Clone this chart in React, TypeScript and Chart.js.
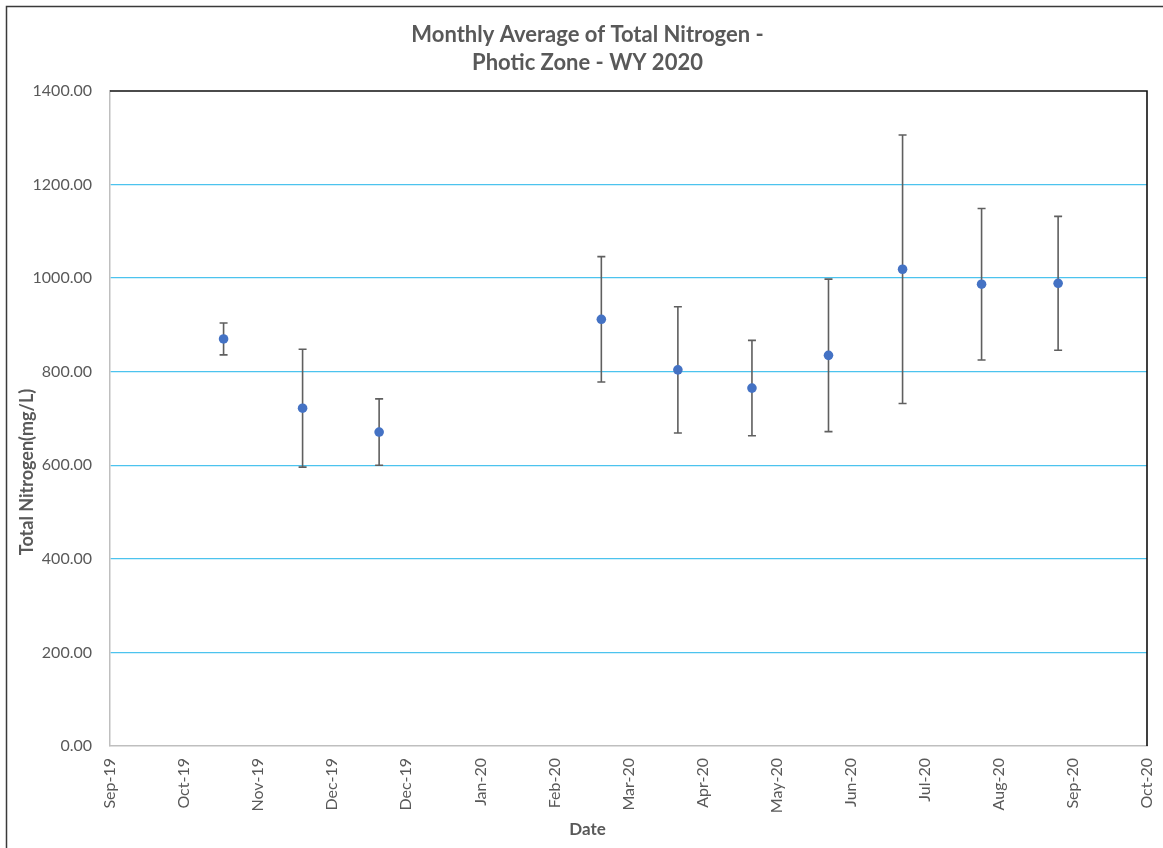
import React, { useEffect, useRef } from "react";
import { Chart, registerables } from "chart.js";

Chart.register(...registerables);

// ---- data ----
const START_DATE = "2019-09-02";
const TICK_STEP_DAYS = 30;
const TICK_LABELS = [
  "Sep-19", "Oct-19", "Nov-19", "Dec-19", "Dec-19", "Jan-20", "Feb-20",
  "Mar-20", "Apr-20", "May-20", "Jun-20", "Jul-20", "Aug-20", "Sep-20", "Oct-20",
];
const SAMPLE_DATES = [
  "2019-10-18", "2019-11-19", "2019-12-20", "2020-03-19", "2020-04-19",
  "2020-05-19", "2020-06-19", "2020-07-19", "2020-08-20", "2020-09-20",
];
const MEAN_TN = [870, 722, 671, 912, 804, 765, 835, 1019, 987, 989];
const STDEV_TN = [34, 126, 71, 134, 135, 102, 163, 287, 162, 143];
const Y_MIN = 0;
const Y_MAX = 1400;
const Y_STEP = 200;
const TITLE_LINES = ["Monthly Average of Total Nitrogen -", "Photic Zone - WY 2020"];
const X_TITLE = "Date";
const Y_TITLE = "Total Nitrogen(mg/L)";

const FONT = "Lato, 'Open Sans', sans-serif";
const TEXT_COLOR = "#595959";

const dayOffset = (d: string) =>
  (Date.parse(d) - Date.parse(START_DATE)) / 86400000;

const decorPlugin = {
  id: "decor",
  beforeDraw(chart: any) {
    const ctx = chart.ctx;
    ctx.save();
    ctx.fillStyle = "#ffffff";
    ctx.fillRect(0, 0, chart.width, chart.height);
    ctx.strokeStyle = "#3a3a3a";
    ctx.lineWidth = 1.5;
    ctx.beginPath();
    ctx.moveTo(6.5, chart.height + 5);
    ctx.lineTo(6.5, 6.5);
    ctx.lineTo(chart.width + 5, 6.5);
    ctx.stroke();
    ctx.restore();
  },
  beforeDatasetsDraw(chart: any) {
    const ctx = chart.ctx;
    const xs = chart.scales.x;
    const ys = chart.scales.y;
    ctx.save();
    ctx.strokeStyle = "#5f5f5f";
    ctx.lineWidth = 1.6;
    SAMPLE_DATES.forEach((d, i) => {
      const x = xs.getPixelForValue(dayOffset(d));
      const yTop = ys.getPixelForValue(MEAN_TN[i] + STDEV_TN[i]);
      const yBot = ys.getPixelForValue(MEAN_TN[i] - STDEV_TN[i]);
      ctx.beginPath();
      ctx.moveTo(x, yTop);
      ctx.lineTo(x, yBot);
      ctx.moveTo(x - 4, yTop);
      ctx.lineTo(x + 4, yTop);
      ctx.moveTo(x - 4, yBot);
      ctx.lineTo(x + 4, yBot);
      ctx.stroke();
    });
    ctx.restore();
  },
  afterDraw(chart: any) {
    const ctx = chart.ctx;
    const a = chart.chartArea;
    ctx.save();
    ctx.strokeStyle = "#111111";
    ctx.lineWidth = 1.6;
    ctx.beginPath();
    ctx.moveTo(a.left, a.top);
    ctx.lineTo(a.right, a.top);
    ctx.lineTo(a.right, a.bottom);
    ctx.stroke();

    ctx.fillStyle = TEXT_COLOR;
    ctx.textAlign = "center";
    ctx.textBaseline = "alphabetic";
    ctx.font = `bold 22px ${FONT}`;
    const cx = 587.5;
    ctx.fillText(TITLE_LINES[0], cx, 42);
    ctx.fillText(TITLE_LINES[1], cx, 70);

    ctx.font = `bold 17px ${FONT}`;
    ctx.fillText(X_TITLE, cx, 835);

    ctx.translate(33, 472);
    ctx.rotate(-Math.PI / 2);
    ctx.font = `bold 18px ${FONT}`;
    ctx.fillText(Y_TITLE, 0, 0);
    ctx.restore();
  },
};

export default function App() {
  const ref = useRef<HTMLCanvasElement | null>(null);

  useEffect(() => {
    let chart: Chart | null = null;
    let cancelled = false;
    const make = () => {
      if (cancelled || !ref.current) return;
      chart = new Chart(ref.current, {
        type: "scatter",
        data: {
          datasets: [
            {
              label: "Total Nitrogen",
              data: SAMPLE_DATES.map((d, i) => ({ x: dayOffset(d), y: MEAN_TN[i] })),
              backgroundColor: "#4472C4",
              borderColor: "#4472C4",
              pointRadius: 4.8,
              pointBorderWidth: 0,
              showLine: false,
            },
          ],
        },
        options: {
          animation: false,
          responsive: false,
          layout: { padding: { left: 0, right: 16, top: 91, bottom: 0 } },
          plugins: {
            legend: { display: false },
            tooltip: { enabled: false },
            title: { display: false },
          },
          scales: {
            x: {
              type: "linear",
              min: 0,
              max: (TICK_LABELS.length - 1) * TICK_STEP_DAYS,
              afterBuildTicks: (scale: any) => {
                scale.ticks = TICK_LABELS.map((_, i) => ({ value: i * TICK_STEP_DAYS }));
              },
              afterFit: (scale: any) => {
                scale.height = 102;
                scale.paddingLeft = 0;
                scale.paddingRight = 0;
              },
              grid: { display: false, drawTicks: false },
              border: { display: true, color: "#bfbfbf", width: 1.5 },
              ticks: {
                autoSkip: false,
                maxRotation: 90,
                minRotation: 90,
                padding: 12,
                color: TEXT_COLOR,
                font: { family: FONT, size: 16 },
                callback: (v: any) => TICK_LABELS[Math.round(Number(v) / TICK_STEP_DAYS)] ?? "",
              },
            },
            y: {
              min: Y_MIN,
              max: Y_MAX,
              afterFit: (scale: any) => {
                scale.width = 110;
                scale.paddingTop = 0;
                scale.paddingBottom = 0;
              },
              grid: {
                drawTicks: false,
                lineWidth: 1.3,
                color: (c: any) =>
                  c.tick && (c.tick.value === Y_MIN || c.tick.value === Y_MAX)
                    ? "rgba(0,0,0,0)"
                    : "#4cc3ee",
              },
              border: { display: true, color: "#bfbfbf", width: 1.5 },
              ticks: {
                stepSize: Y_STEP,
                padding: 18,
                color: TEXT_COLOR,
                font: { family: FONT, size: 16 },
                callback: (v: any) => Number(v).toFixed(2),
              },
            },
          },
        },
        plugins: [decorPlugin],
      } as any);
    };
    const fonts: any = (document as any).fonts;
    if (fonts && fonts.load) {
      Promise.all([
        fonts.load(`16px Lato`),
        fonts.load(`bold 22px Lato`),
      ]).then(make, make);
    } else {
      make();
    }
    return () => {
      cancelled = true;
      if (chart) chart.destroy();
    };
  }, []);

  return (
    <div style={{ position: "fixed", left: 0, top: 0, width: 1163, height: 848, overflow: "hidden", background: "#fff" }}>
      <canvas ref={ref} width={1163} height={848} style={{ display: "block", width: 1163, height: 848 }} />
    </div>
  );
}
